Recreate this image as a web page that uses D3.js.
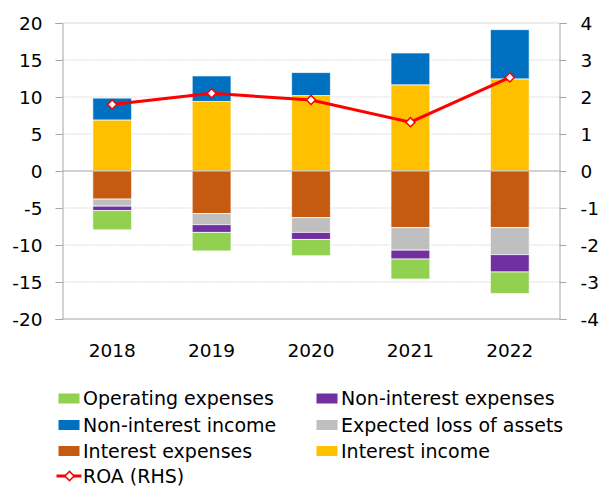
<!DOCTYPE html>
<html>
<head>
<meta charset="utf-8">
<script src="https://cdn.jsdelivr.net/npm/d3@7"></script>
<style>
  html, body { margin: 0; background: #fff; overflow: hidden; }
  svg { display: block; }
  text { font-family: "DejaVu Sans", sans-serif; fill: #000; }
</style>
</head>
<body>
<div id="wrapper"></div>
<script>
/* DATA */
const years = ['2018', '2019', '2020', '2021', '2022']

const interestIncome = [6.9, 9.4, 10.2, 11.65, 12.45]
const nonInterestIncome = [2.95, 3.45, 3.1, 4.3, 6.65]
const interestExpenses = [-3.8, -5.75, -6.3, -7.65, -7.65]
const expectedLoss = [-0.95, -1.5, -2.0, -3.05, -3.65]
const nonInterestExpenses = [-0.6, -1.05, -0.95, -1.2, -2.35]
const operatingExpenses = [-2.6, -2.5, -2.2, -2.7, -2.9]
const roa = [1.8, 2.1, 1.92, 1.32, 2.53]

const leftTicks = [20, 15, 10, 5, 0, -5, -10, -15, -20]
const rightTicks = [4, 3, 2, 1, 0, -1, -2, -3, -4]

// stacking order away from zero
const positiveSeries = [
  { name: 'Interest income', values: interestIncome, color: '#ffc000' },
  { name: 'Non-interest income', values: nonInterestIncome, color: '#0070c0' },
]
const negativeSeries = [
  { name: 'Interest expenses', values: interestExpenses, color: '#c55a11' },
  { name: 'Expected loss of assets', values: expectedLoss, color: '#bfbfbf' },
  { name: 'Non-interest expenses', values: nonInterestExpenses, color: '#7030a0' },
  { name: 'Operating expenses', values: operatingExpenses, color: '#92d050' },
]

/* DIMENSIONS */
const dimensions = {
  width: 601,
  height: 486,
  left: 62.5,
  right: 559.5,
  top: 23,
  bottom: 319,
}

/* SCALES */
const xScale = d3.scaleBand()
  .domain(years)
  .range([dimensions.left, dimensions.right])
  .paddingInner(0.61)
  .paddingOuter(0.305)

const yScale = d3.scaleLinear()
  .domain([-20, 20])
  .range([dimensions.bottom, dimensions.top])

const yRightScale = d3.scaleLinear()
  .domain([-4, 4])
  .range([dimensions.bottom, dimensions.top])

/* DRAW */
const svg = d3.select('#wrapper')
  .append('svg')
  .attr('width', dimensions.width)
  .attr('height', dimensions.height)

// gridlines
svg.append('g')
  .selectAll('line')
  .data(leftTicks.filter(d => d !== 0 && d !== -20))
  .enter()
  .append('line')
  .attr('x1', dimensions.left)
  .attr('x2', dimensions.right)
  .attr('y1', d => yScale(d))
  .attr('y2', d => yScale(d))
  .attr('stroke', '#d9d9d9')
  .attr('stroke-width', 1)
  .attr('stroke-dasharray', d => d === 20 ? null : '2 1')

// bars
const barsGroup = svg.append('g')
function drawStack(series) {
  const base = years.map(() => 0)
  series.forEach(s => {
    barsGroup.append('g')
      .selectAll('rect')
      .data(years)
      .enter()
      .append('rect')
      .attr('x', d => xScale(d))
      .attr('width', xScale.bandwidth())
      .attr('y', (d, i) => {
        const a = base[i], b = base[i] + s.values[i]
        return yScale(Math.max(a, b))
      })
      .attr('height', (d, i) => Math.abs(yScale(0) - yScale(s.values[i])))
      .attr('fill', s.color)
      .attr('stroke', '#ffffff')
      .attr('stroke-opacity', 0.7)
      .attr('stroke-width', 1)
    years.forEach((d, i) => { base[i] += s.values[i] })
  })
}
drawStack(positiveSeries)
drawStack(negativeSeries)

// axes (plain hyphen for negatives, like the original)
const axisColor = '#a6a6a6'
const plainFormat = d => String(d)
const leftAxis = svg.append('g')
  .attr('transform', `translate(${dimensions.left},0)`)
  .call(d3.axisLeft(yScale).tickValues(leftTicks).tickFormat(plainFormat).tickSize(7).tickPadding(13))
const rightAxis = svg.append('g')
  .attr('transform', `translate(${dimensions.right},0)`)
  .call(d3.axisRight(yRightScale).tickValues(rightTicks).tickFormat(plainFormat).tickSize(7).tickPadding(14))

;[leftAxis, rightAxis].forEach(axis => {
  axis.select('.domain').attr('stroke', axisColor)
  axis.selectAll('.tick line').attr('stroke', axisColor)
  axis.selectAll('.tick text')
    .attr('font-size', 18.5)
    .attr('font-family', '"DejaVu Sans", sans-serif')
    .attr('fill', '#000')
    .attr('dy', '0.36em')
})

// zero line and bottom line
svg.append('line')
  .attr('x1', dimensions.left).attr('x2', dimensions.right)
  .attr('y1', yScale(0)).attr('y2', yScale(0))
  .attr('stroke', axisColor)
svg.append('line')
  .attr('x1', dimensions.left).attr('x2', dimensions.right)
  .attr('y1', yScale(-20)).attr('y2', yScale(-20))
  .attr('stroke', axisColor)

// year labels
svg.append('g')
  .selectAll('text')
  .data(years)
  .enter()
  .append('text')
  .attr('x', d => xScale(d) + xScale.bandwidth() / 2)
  .attr('y', 357)
  .attr('text-anchor', 'middle')
  .attr('font-size', 18.5)
  .text(d => d)

// ROA line
const roaLine = d3.line()
  .x((d, i) => xScale(years[i]) + xScale.bandwidth() / 2)
  .y(d => yRightScale(d))

svg.append('path')
  .attr('d', roaLine(roa))
  .attr('fill', 'none')
  .attr('stroke', '#ff0000')
  .attr('stroke-width', 3)

const diamond = d3.symbol().type(d3.symbolSquare).size(42)
svg.append('g')
  .selectAll('path')
  .data(roa)
  .enter()
  .append('path')
  .attr('d', diamond)
  .attr('transform', (d, i) => `translate(${xScale(years[i]) + xScale.bandwidth() / 2},${yRightScale(d)}) rotate(45)`)
  .attr('fill', '#fff')
  .attr('stroke', '#ff0000')
  .attr('stroke-width', 1.5)

/* LEGEND */
const legendItems = [
  { name: 'Operating expenses', color: '#92d050', col: 0, row: 0 },
  { name: 'Non-interest expenses', color: '#7030a0', col: 1, row: 0 },
  { name: 'Non-interest income', color: '#0070c0', col: 0, row: 1 },
  { name: 'Expected loss of assets', color: '#bfbfbf', col: 1, row: 1 },
  { name: 'Interest expenses', color: '#c55a11', col: 0, row: 2 },
  { name: 'Interest income', color: '#ffc000', col: 1, row: 2 },
]
const legendCols = [58.5, 316.5]
const legendRows = [398.5, 425, 451, 476]

const legend = svg.append('g')
const legendGroups = legend.selectAll('g')
  .data(legendItems)
  .enter()
  .append('g')
  .attr('transform', d => `translate(${legendCols[d.col]},${legendRows[d.row]})`)

legendGroups.append('rect')
  .attr('x', 0)
  .attr('y', -5)
  .attr('width', 21)
  .attr('height', 10)
  .attr('fill', d => d.color)

legendGroups.append('text')
  .attr('x', 24.5)
  .attr('dy', '0.36em')
  .attr('font-size', 19)
  .text(d => d.name)

const roaLegend = legend.append('g')
  .attr('transform', `translate(${legendCols[0]},${legendRows[3]})`)
roaLegend.append('line')
  .attr('x1', -2).attr('x2', 23)
  .attr('stroke', '#ff0000')
  .attr('stroke-width', 3)
roaLegend.append('path')
  .attr('d', diamond)
  .attr('transform', 'translate(11,0) rotate(45)')
  .attr('fill', '#fff')
  .attr('stroke', '#ff0000')
  .attr('stroke-width', 1.5)
roaLegend.append('text')
  .attr('x', 24.5)
  .attr('dy', '0.36em')
  .attr('font-size', 19)
  .text('ROA (RHS)')
</script>
</body>
</html>
